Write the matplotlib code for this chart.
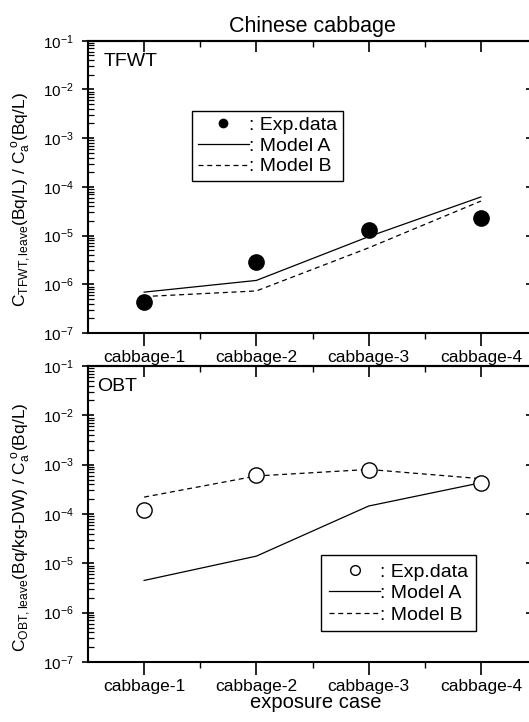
import numpy as np
import matplotlib
matplotlib.use("Agg")
import matplotlib.pyplot as plt
from matplotlib.ticker import LogLocator, NullFormatter, FixedLocator
from matplotlib.lines import Line2D

plt.rcParams['font.family'] = ['Liberation Sans', 'DejaVu Sans']
plt.rcParams['mathtext.fontset'] = 'custom'
plt.rcParams['mathtext.rm'] = 'Liberation Sans'
plt.rcParams['mathtext.it'] = 'Liberation Sans'
plt.rcParams['mathtext.default'] = 'regular'

# data
cases = ['cabbage-1', 'cabbage-2', 'cabbage-3', 'cabbage-4']
x = np.arange(1, 5)

tfwt_exp = [4.4e-7, 2.9e-6, 1.3e-5, 2.3e-5]
tfwt_model_a = [6.9e-7, 1.2e-6, 9.5e-6, 6.2e-5]
tfwt_model_b = [5.6e-7, 7.3e-7, 5.6e-6, 5.1e-5]

obt_exp = [1.2e-4, 6.3e-4, 7.8e-4, 4.2e-4]
obt_model_a = [4.5e-6, 1.4e-5, 1.45e-4, 4.3e-4]
obt_model_b = [2.2e-4, 5.9e-4, 8.0e-4, 5.2e-4]

W, H = 529, 722
fig = plt.figure(figsize=(W / 100, H / 100), dpi=100)

left, right = 88 / W, 537 / W
ax1 = fig.add_axes([left, 1 - 333 / H, right - left, (333 - 40.7) / H])
ax2 = fig.add_axes([left, 1 - 662 / H, right - left, (662 - 366) / H])


def style_axes(ax):
    ax.set_yscale('log')
    ax.set_ylim(1e-7, 1e-1)
    ax.set_xlim(0.5, 4.5)
    for s in ax.spines.values():
        s.set_linewidth(1.5)
    ax.yaxis.set_major_locator(LogLocator(base=10, numticks=10))
    ax.yaxis.set_minor_locator(LogLocator(base=10, subs=np.arange(2, 10), numticks=20))
    ax.yaxis.set_minor_formatter(NullFormatter())
    ax.tick_params(axis='y', which='major', direction='inout', length=8, width=1.2,
                   labelsize=11, pad=6, right=False)
    ax.tick_params(axis='y', which='minor', direction='in', length=4, width=0.9, right=False)
    ax.set_xticks(x)
    ax.set_xticklabels(cases)
    ax.xaxis.set_minor_locator(FixedLocator([1.5, 2.5, 3.5]))
    ax.tick_params(axis='x', which='major', direction='out', length=9, width=1.2,
                   labelsize=12.5, pad=3, top=False)
    ax.tick_params(axis='x', which='minor', direction='out', length=4, width=1.0, top=False)
    # top side: inward ticks
    sec = ax.secondary_xaxis('top')
    sec.set_xticks(x)
    sec.set_xticklabels([])
    sec.xaxis.set_minor_locator(FixedLocator([1.5, 2.5, 3.5]))
    sec.tick_params(axis='x', which='major', direction='in', length=8, width=1.2)
    sec.tick_params(axis='x', which='minor', direction='in', length=4, width=1.0)
    sec.spines['top'].set_linewidth(1.5)
    # right side: inward decade ticks
    secy = ax.secondary_yaxis('right')
    secy.set_yticks([1e-6, 1e-5, 1e-4, 1e-3, 1e-2])
    secy.set_yticklabels([])
    secy.yaxis.set_minor_locator(FixedLocator([]))
    secy.tick_params(axis='y', which='major', direction='in', length=8, width=1.2)


style_axes(ax1)
style_axes(ax2)

# top panel: TFWT
ax1.plot(x, tfwt_model_a, color='black', lw=0.9, ls='-')
ax1.plot(x, tfwt_model_b, color='black', lw=0.9, ls=(0, (4, 3)))
ax1.plot(x, tfwt_exp, 'o', color='black', ms=11, ls='none')
ax1.set_title('Chinese cabbage', fontsize=15.5, pad=6)
ax1.text(0.035, 0.93, 'TFWT', transform=ax1.transAxes, fontsize=14, va='center', ha='left')
ax1.text(-0.147, 0.455, r'C$_{TFWT,leave}$(Bq/L) / C$_a^{\ o}$(Bq/L)', transform=ax1.transAxes,
         rotation=90, ha='center', va='center', fontsize=12.5)

h1 = [Line2D([], [], marker='o', color='black', ls='none', ms=6),
      Line2D([], [], color='black', lw=0.9, ls='-'),
      Line2D([], [], color='black', lw=0.9, ls=(0, (4, 3)))]
leg1 = ax1.legend(h1, [': Exp.data', ': Model A', ': Model B'], loc='upper left',
                  bbox_to_anchor=(0.232, 0.76), borderaxespad=0, fontsize=14,
                  handlelength=2.6, handletextpad=0.0, labelspacing=0.15,
                  borderpad=0.3, fancybox=False, edgecolor='black', framealpha=1)
leg1.get_frame().set_linewidth(1.0)

# bottom panel: OBT
ax2.plot(x, obt_model_a, color='black', lw=0.9, ls='-')
ax2.plot(x, obt_model_b, color='black', lw=0.9, ls=(0, (4, 3)))
ax2.plot(x, obt_exp, 'o', mfc='white', mec='black', mew=1.0, ms=11, ls='none')
ax2.text(0.02, 0.93, 'OBT', transform=ax2.transAxes, fontsize=14, va='center', ha='left')
ax2.text(-0.147, 0.456, r'C$_{OBT,leave}$(Bq/kg-DW) / C$_a^{\ o}$(Bq/L)', transform=ax2.transAxes,
         rotation=90, ha='center', va='center', fontsize=12.5)
ax2.set_xlabel('exposure case', fontsize=14.5)
ax2.xaxis.set_label_coords((316 - 88) / 449, -0.105)

h2 = [Line2D([], [], marker='o', mfc='white', mec='black', mew=1.0, ls='none', ms=7),
      Line2D([], [], color='black', lw=0.9, ls='-'),
      Line2D([], [], color='black', lw=0.9, ls=(0, (4, 3)))]
leg2 = ax2.legend(h2, [': Exp.data', ': Model A', ': Model B'], loc='upper left',
                  bbox_to_anchor=(0.52, 0.361), borderaxespad=0, fontsize=14,
                  handlelength=2.6, handletextpad=0.0, labelspacing=0.2,
                  borderpad=0.4, fancybox=False, edgecolor='black', framealpha=1)
leg2.get_frame().set_linewidth(1.0)

fig.savefig('out.png', dpi=100)
